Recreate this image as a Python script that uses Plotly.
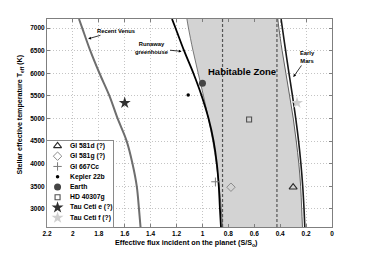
import plotly.graph_objects as go

# ---------------- data ----------------
teff = [2600, 3000, 3500, 4000, 4500, 5000, 5500, 6000, 6500, 7000, 7200]
recent_venus = [1.478, 1.490, 1.507, 1.540, 1.585, 1.655, 1.718, 1.795, 1.866, 1.928, 1.953]
runaway_greenhouse = [0.857, 0.865, 0.874, 0.889, 0.914, 0.953, 1.006, 1.070, 1.142, 1.208, 1.235]
moist_greenhouse = [0.844, 0.855, 0.871, 0.893, 0.920, 0.954, 0.992, 1.033, 1.073, 1.108, 1.120]
maximum_greenhouse = [0.228, 0.234, 0.242, 0.256, 0.276, 0.299, 0.327, 0.356, 0.385, 0.410, 0.418]
early_mars = [0.210, 0.216, 0.226, 0.240, 0.258, 0.280, 0.305, 0.332, 0.358, 0.383, 0.393]

dashed_flux = [0.845, 0.425]

planet_names = ["Gl 581d (?)", "Gl 581g (?)", "Gl 667Cc", "Kepler 22b", "Earth",
                "HD 40307g", "Tau Ceti e (?)", "Tau Ceti f (?)"]
planet_flux = [0.30, 0.78, 0.90, 1.11, 1.00, 0.64, 1.60, 0.27]
planet_teff = [3480, 3480, 3600, 5518, 5778, 4977, 5344, 5344]

x_tick_vals = [2.2, 2.0, 1.8, 1.6, 1.4, 1.2, 1.0, 0.8, 0.6, 0.4, 0.2, 0.0]
x_tick_text = ["2.2", "2", "1.8", "1.6", "1.4", "1.2", "1", "0.8", "0.6", "0.4", "0.2", "0"]
y_tick_vals = [3000, 3500, 4000, 4500, 5000, 5500, 6000, 6500, 7000]

# ---------------- styles ----------------
FONT = "Liberation Sans, Arial, Helvetica, sans-serif"
planet_symbols = ["triangle-up-open", "diamond-open", "cross-thin-open", "circle",
                  "circle", "square-open", "star", "star"]
planet_colors = ["#2a2a2a", "#8c8c8c", "#7a7a7a", "#000000", "#454545",
                 "#505050", "#303030", "#cfcfcf"]
planet_sizes = [7, 6.5, 6, 3.5, 7, 5, 9, 9]
planet_linew = [1.1, 1, 1, 0, 0, 1.1, 0, 0]

fig = go.Figure()

# Recent Venus
fig.add_trace(go.Scatter(x=recent_venus, y=teff, mode="lines", line_shape="spline",
                         line=dict(color="#6e6e6e", width=2), showlegend=False, hoverinfo="skip"))
# Habitable zone: maximum greenhouse (right edge) then moist greenhouse filled to it
fig.add_trace(go.Scatter(x=maximum_greenhouse, y=teff, mode="lines", line_shape="spline",
                         line=dict(color="#3c3c3c", width=0.8), showlegend=False, hoverinfo="skip"))
fig.add_trace(go.Scatter(x=moist_greenhouse, y=teff, mode="lines", line_shape="spline",
                         fill="tonextx", fillcolor="#d3d3d3",
                         line=dict(color="#5a5a5a", width=0.8), showlegend=False, hoverinfo="skip"))
# Early Mars and runaway greenhouse
fig.add_trace(go.Scatter(x=early_mars, y=teff, mode="lines", line_shape="spline",
                         line=dict(color="#1a1a1a", width=1.6), showlegend=False, hoverinfo="skip"))
fig.add_trace(go.Scatter(x=runaway_greenhouse, y=teff, mode="lines", line_shape="spline",
                         line=dict(color="#000000", width=1.8), showlegend=False, hoverinfo="skip"))

for v in dashed_flux:
    fig.add_vline(x=v, line=dict(color="#555555", width=1.2, dash="3px,2px"))

# planets
for i in range(len(planet_names)):
    fig.add_trace(go.Scatter(
        x=[planet_flux[i]], y=[planet_teff[i]], mode="markers", name=planet_names[i],
        marker=dict(symbol=planet_symbols[i], color=planet_colors[i], size=planet_sizes[i],
                    line=dict(color=planet_colors[i], width=planet_linew[i])),
        showlegend=False))

# custom legend drawn in a small overlay subplot
legend_key_x = 0.16
legend_text_x = 0.32
for i in range(len(planet_names)):
    fig.add_trace(go.Scatter(
        x=[legend_key_x], y=[i], xaxis="x2", yaxis="y2", mode="markers",
        marker=dict(symbol=planet_symbols[i], color=planet_colors[i], size=planet_sizes[i],
                    line=dict(color=planet_colors[i], width=planet_linew[i])),
        showlegend=False, hoverinfo="skip"))
    fig.add_annotation(x=legend_text_x, y=i, xref="x2", yref="y2", text=planet_names[i],
                       showarrow=False, xanchor="left", yanchor="middle",
                       font=dict(family=FONT, size=6.8, color="#000", weight="bold"))

ann_font = dict(family=FONT, size=5.8, color="#000", weight="bold")
fig.add_annotation(x=1.882, y=6762, text="Recent Venus", showarrow=True, ax=28, ay=-8,
                   arrowhead=2, arrowsize=0.7, arrowwidth=0.8, arrowcolor="#000", font=ann_font)
fig.add_annotation(x=1.161, y=6484, text="Runaway<br>greenhouse", showarrow=True, ax=-30, ay=-3,
                   arrowhead=2, arrowsize=0.7, arrowwidth=0.8, arrowcolor="#000", font=ann_font)
fig.add_annotation(x=0.298, y=5918, text="Early<br>Mars", showarrow=True, ax=14, ay=-20,
                   arrowhead=2, arrowsize=0.7, arrowwidth=0.8, arrowcolor="#000", font=ann_font)
fig.add_annotation(x=0.695, y=6050, text="Habitable Zone", showarrow=False,
                   font=dict(family=FONT, size=9.5, color="#000", weight="bold"))

# axis titles
fig.add_annotation(xref="paper", yref="paper", x=0.489, y=-0.077, xanchor="center", yanchor="middle",
                   text="Effective flux incident on the planet (S/S<sub>o</sub>)", showarrow=False,
                   font=dict(family=FONT, size=7.2, color="#000", weight="bold"))
fig.add_annotation(xref="paper", yref="paper", x=-0.095, y=0.54, xanchor="center", yanchor="middle",
                   textangle=-90,
                   text="Stellar effective temperature T<sub>eff</sub> (K)", showarrow=False,
                   font=dict(family=FONT, size=7.1, color="#000", weight="bold"))

tick_font = dict(family=FONT, size=6.5, color="#000", weight="bold")
fig.update_layout(
    width=367, height=255,
    margin=dict(l=47, r=35, t=19, b=28),
    paper_bgcolor="white", plot_bgcolor="white",
    showlegend=False,
    xaxis=dict(range=[2.2, 0], tickvals=x_tick_vals, ticktext=x_tick_text,
               showgrid=True, gridcolor="#c4c4c4", griddash="1px,2px", gridwidth=1,
               zeroline=False, showline=True, linecolor="#7f7f7f", linewidth=1, mirror="ticks",
               ticks="inside", ticklen=3, tickcolor="#7f7f7f", tickfont=tick_font),
    yaxis=dict(range=[2600, 7200], tickvals=y_tick_vals,
               showgrid=True, gridcolor="#c4c4c4", griddash="1px,2px", gridwidth=1,
               zeroline=False, showline=True, linecolor="#7f7f7f", linewidth=1, mirror="ticks",
               ticks="inside", ticklen=3, tickcolor="#7f7f7f", tickfont=tick_font),
    xaxis2=dict(domain=[0, 0.2316], anchor="y2", range=[0, 1], showgrid=False, zeroline=False,
                showticklabels=False, ticks="", showline=True, mirror=True,
                linecolor="#8a8a8a", linewidth=1, fixedrange=True),
    yaxis2=dict(domain=[0, 0.4145], anchor="x2", range=[7.9, -0.5], showgrid=False, zeroline=False,
                showticklabels=False, ticks="", showline=True, mirror=True,
                linecolor="#8a8a8a", linewidth=1, fixedrange=True),
)

fig.write_html("out.html", config={"displayModeBar": False},
               post_script="document.body.style.margin='0px';")
